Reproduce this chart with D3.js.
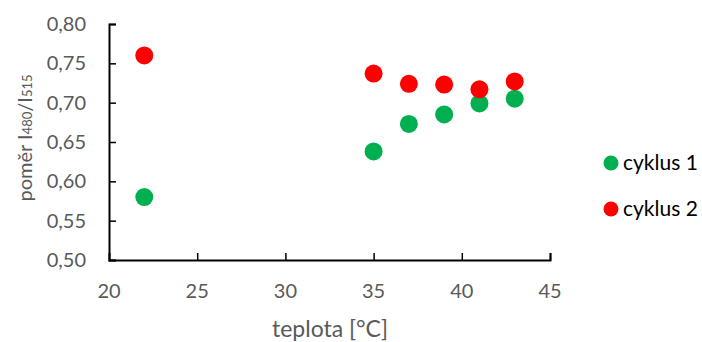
<!DOCTYPE html>
<html><head><meta charset="utf-8">
<script src="https://cdn.jsdelivr.net/npm/d3@7"></script>
<style>body{margin:0;background:#fff}svg text{font-family:Lato,"Open Sans",sans-serif}</style>
</head><body><svg id="c" width="702" height="342"></svg>
<script>
const temps = [22, 35, 37, 39, 41, 43];
const cyklus1 = [0.580, 0.638, 0.673, 0.685, 0.699, 0.705];
const cyklus2 = [0.760, 0.737, 0.724, 0.723, 0.717, 0.727];
const seriesNames = ["cyklus 1", "cyklus 2"];
const seriesColors = ["#00B050", "#FF0000"];
const xTicks = [20, 25, 30, 35, 40, 45];
const yTicks = [0.50, 0.55, 0.60, 0.65, 0.70, 0.75, 0.80];

const svg = d3.select("#c");
const x = d3.scaleLinear().domain([20, 45]).range([109, 550]);
const y = d3.scaleLinear().domain([0.5, 0.8]).range([260, 24]);
const fmt = d => d.toFixed(2).replace(".", ",");

const gx = svg.append("g").attr("transform", "translate(0,260)")
  .call(d3.axisTop(x).tickValues(xTicks).tickSize(7).tickFormat(""));
gx.select(".domain").attr("stroke-width", 2);
gx.selectAll(".tick line").attr("stroke-width", 1.5);
gx.selectAll(".tick").filter(d => d === 20).select("line").remove();
svg.append("g").selectAll("text").data(xTicks).join("text")
  .attr("x", d => x(d)).attr("y", 298).attr("text-anchor", "middle")
  .attr("font-size", 20).attr("fill", "#595959").text(d => d);

const gy = svg.append("g").attr("transform", "translate(109,0)")
  .call(d3.axisRight(y).tickValues(yTicks).tickSize(7).tickFormat(""));
gy.select(".domain").attr("stroke-width", 2);
gy.selectAll(".tick line").attr("stroke-width", 1.5);
svg.append("g").selectAll("text").data(yTicks).join("text")
  .attr("x", 86).attr("y", d => y(d) + 7).attr("text-anchor", "end")
  .attr("font-size", 20).attr("fill", "#595959").text(fmt);

svg.append("text").attr("x", 330).attr("y", 337).attr("text-anchor", "middle")
  .attr("font-size", 23).attr("fill", "#595959").text("teplota [°C]");

const yt = svg.append("text").attr("transform", "translate(32,138) rotate(-90)")
  .attr("text-anchor", "middle").attr("font-size", 20).attr("fill", "#595959");
yt.append("tspan").text("poměr I");
yt.append("tspan").attr("font-size", 13).text("480");
yt.append("tspan").text("/I");
yt.append("tspan").attr("font-size", 13).text("515");

[cyklus1, cyklus2].forEach((vals, i) => {
  svg.append("g").selectAll("circle").data(vals).join("circle")
    .attr("cx", (d, j) => x(temps[j])).attr("cy", d => y(d)).attr("r", 9)
    .attr("fill", seriesColors[i]);
});

const lg = svg.append("g");
seriesNames.forEach((n, i) => {
  lg.append("circle").attr("cx", 611).attr("cy", 163 + i * 46).attr("r", 7.5).attr("fill", seriesColors[i]);
  lg.append("text").attr("x", 623).attr("y", 170 + i * 46).attr("font-size", 21)
    .attr("fill", "#000").text(n);
});
</script></body></html>
